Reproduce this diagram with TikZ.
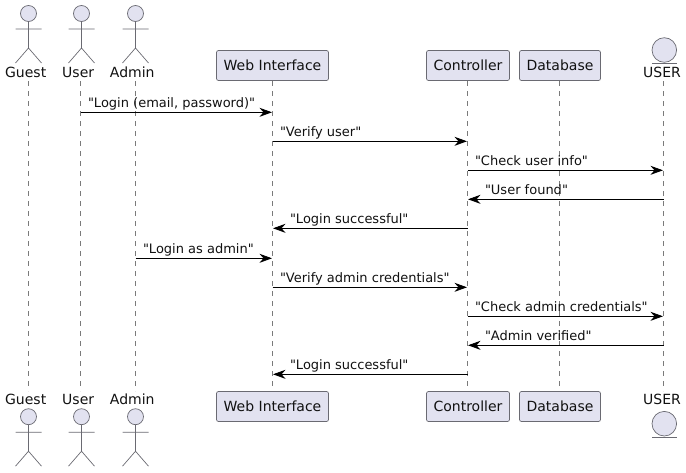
\documentclass[tikz,border=0pt]{standalone}
\usepackage{fontspec}
\setmainfont{DejaVu Sans}[Ligatures=TeXOff]
\usetikzlibrary{arrows.meta}
\definecolor{partfill}{HTML}{E2E2F0}
\definecolor{partline}{HTML}{6A6A72}
\definecolor{lifecol}{HTML}{7A7A7A}
\definecolor{inkcol}{HTML}{111111}
\tikzset{
  partbox/.style={draw=partline,fill=partfill,rounded corners=2pt,line width=.7pt,inner sep=0pt,minimum height=30pt,font=\fontsize{14}{16}\selectfont,text=inkcol},
  partlabel/.style={anchor=base,inner sep=0pt,font=\fontsize{14}{16}\selectfont,text=inkcol},
  figline/.style={draw=partline,line width=.7pt},
  headfill/.style={draw=partline,fill=partfill,line width=.7pt},
  lifeline/.style={draw=lifecol,line width=.6pt,dash pattern=on 5pt off 5pt},
  msg/.style={draw=black,line width=.8pt,-{Stealth[length=12.5pt,width=9pt,inset=4pt]}},
  msgtext/.style={anchor=base west,inner sep=0pt,font=\fontsize{13}{15}\selectfont,text=inkcol},
}
\newcommand{\stickfig}[2]{%
  \draw[headfill] (#1,#2) circle (8pt);
  \draw[figline] (#1,#2+8) -- (#1,#2+34.5)
    (#1-13,#2+15.5) -- (#1+13,#2+15.5)
    (#1-13,#2+49.5) -- (#1,#2+34.5) -- (#1+13,#2+49.5);
}
\newcommand{\entityfig}[2]{%
  \draw[headfill] (#1,#2) circle (12.3pt);
  \draw[figline] (#1-12.3,#2+13.5) -- (#1+12.3,#2+13.5);
}
\newcommand{\msgright}[5]{%
  \draw[msg] (#1 |- 0,#3) -- ([xshift=-.5pt]#2 |- 0,#3);
  \node[msgtext] (#4) at ([xshift=7.3pt,yshift=5.2pt]#1 |- 0,#3) {#5};
}
\newcommand{\msgleft}[5]{%
  \draw[msg] (#1 |- 0,#3) -- ([xshift=.5pt]#2 |- 0,#3);
  \node[msgtext] (#4) at ([xshift=17.3pt,yshift=5.2pt]#2 |- 0,#3) {#5};
}
\begin{document}
\begin{tikzpicture}[x=1pt,y=-1pt]
\useasboundingbox (0,0) rectangle (686,472);
\coordinate (gt) at (28.5,81);  \coordinate (gb) at (28.5,391);
\coordinate (ut) at (80.5,81);  \coordinate (ub) at (80.5,391);
\coordinate (at) at (135.5,81); \coordinate (ab) at (135.5,391);
\coordinate (wt) at (272.5,81); \coordinate (wb) at (272.5,391);
\coordinate (ct) at (467.5,81); \coordinate (cb) at (467.5,391);
\coordinate (dt) at (559.5,81); \coordinate (db) at (559.5,391);
\coordinate (et) at (663.5,81); \coordinate (eb) at (663.5,391);
\foreach \p in {g,u,a,w,c,d,e} \draw[lifeline] (\p t) -- (\p b);
\stickfig{28.5}{13.5} \stickfig{81.5}{13.5} \stickfig{135.5}{13.5}
\node[partlabel] (guestT) at (25.7,77.5) {Guest};
\node[partlabel] (userT) at (78.2,77.5) {User};
\node[partlabel] (adminT) at (132.3,77.5) {Admin};
\node[partbox,minimum width=112pt] (webT) at (272.5,65.5) {Web Interface};
\node[partbox,minimum width=83pt] (ctrlT) at (468,65.5) {Controller};
\node[partbox,minimum width=81pt] (dbT) at (560,65.5) {Database};
\entityfig{664.3}{50}
\node[partlabel] (entT) at (662,77.5) {USER};
\stickfig{28.5}{416.7} \stickfig{81.5}{416.7} \stickfig{135.5}{416.7}
\node[partlabel] (guestB) at (25.7,404.5) {Guest};
\node[partlabel] (userB) at (78.2,404.5) {User};
\node[partlabel] (adminB) at (132.3,404.5) {Admin};
\node[partbox,minimum width=112pt] (webB) at (272.5,406.5) {Web Interface};
\node[partbox,minimum width=83pt] (ctrlB) at (468,406.5) {Controller};
\node[partbox,minimum width=81pt] (dbB) at (560,406.5) {Database};
\entityfig{664.3}{423.7}
\node[partlabel] (entB) at (662,404.5) {USER};
\msgright{ut}{wt}{112.3}{m1}{"Login (email, password)"}
\msgright{wt}{ct}{141.3}{m2}{"Verify user"}
\msgright{ct}{et}{170.3}{m3}{"Check user info"}
\msgleft{et}{ct}{199.3}{m4}{"User found"}
\msgleft{ct}{wt}{228.3}{m5}{"Login successful"}
\msgright{at}{wt}{258.3}{m6}{"Login as admin"}
\msgright{wt}{ct}{287.3}{m7}{"Verify admin credentials"}
\msgright{ct}{et}{316.3}{m8}{"Check admin credentials"}
\msgleft{et}{ct}{345.3}{m9}{"Admin verified"}
\msgleft{ct}{wt}{374.3}{m10}{"Login successful"}
\end{tikzpicture}
\end{document}
